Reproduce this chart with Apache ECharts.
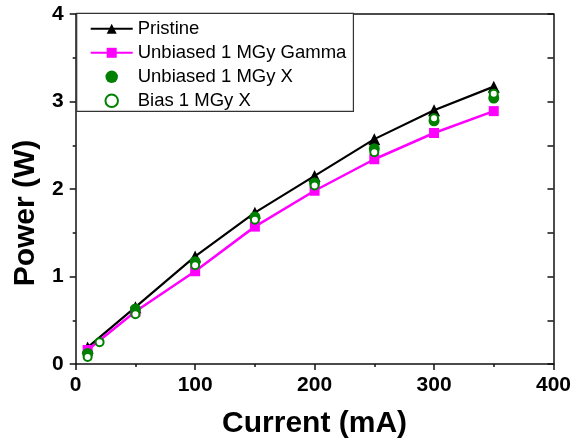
<!DOCTYPE html>
<html>
<head>
<meta charset="utf-8">
<script src="https://cdn.jsdelivr.net/npm/echarts@6/dist/echarts.min.js"></script>
<style>
html,body{margin:0;padding:0;background:#fff;}
#chart{width:574px;height:444px;}
</style>
</head>
<body>
<div id="chart"></div>
<script>
var current = [10, 50, 100, 150, 200, 250, 300, 350];
var pristine = [0.19, 0.65, 1.23, 1.73, 2.15, 2.57, 2.90, 3.17];
var gamma = [0.16, 0.60, 1.06, 1.57, 1.98, 2.34, 2.64, 2.89];
var unbiasedX = [0.12, 0.63, 1.17, 1.68, 2.07, 2.46, 2.78, 3.04];
var biasCurrent = [10, 20, 50, 100, 150, 200, 250, 300, 350];
var biasX = [0.08, 0.25, 0.57, 1.13, 1.65, 2.04, 2.42, 2.81, 3.09];
var xTicks = [0, 100, 200, 300, 400];
var yTicks = [0, 1, 2, 3, 4];
var names = ['Pristine', 'Unbiased 1 MGy Gamma', 'Unbiased 1 MGy X', 'Bias 1 MGy X'];

function pairs(xs, ys) { return xs.map(function (x, i) { return [x, ys[i]]; }); }

var FONT = 'Liberation Sans, Arial, sans-serif';
var axisLineStyle = { color: '#111', width: 1.5 };

var chart = echarts.init(document.getElementById('chart'), null, { renderer: 'canvas' });
chart.setOption({
  animation: false,
  backgroundColor: '#fff',
  grid: { left: 75.7, right: 19, top: 14, bottom: 78 },
  legend: {
    orient: 'vertical',
    left: 76.7,
    top: 13.3,
    data: names,
    padding: [6, 7, 1, 13],
    itemWidth: 42,
    itemHeight: 12.5,
    itemGap: 5,
    borderColor: '#333',
    borderWidth: 1.2,
    backgroundColor: '#fff',
    textStyle: { fontFamily: FONT, fontSize: 18.5, color: '#000', lineHeight: 18 }
  },
  xAxis: [{
    type: 'value',
    min: xTicks[0], max: xTicks[xTicks.length - 1], interval: 100,
    name: 'Current (mA)', nameLocation: 'middle', nameGap: 45,
    nameTextStyle: { fontFamily: FONT, fontSize: 30, fontWeight: 'bold', color: '#000' },
    axisLine: { show: true, onZero: false, lineStyle: axisLineStyle },
    axisTick: { show: true, inside: false, length: 6, lineStyle: axisLineStyle },
    minorTick: { show: true, splitNumber: 2, length: 3, lineStyle: axisLineStyle },
    splitLine: { show: false },
    axisLabel: { margin: 11, fontFamily: FONT, fontSize: 21, fontWeight: 'bold', color: '#000' }
  }, {
    type: 'value', position: 'top',
    min: xTicks[0], max: xTicks[xTicks.length - 1], interval: 100,
    axisLine: { show: true, onZero: false, lineStyle: axisLineStyle },
    axisTick: { show: false }, axisLabel: { show: false }, splitLine: { show: false }
  }],
  yAxis: [{
    type: 'value',
    min: yTicks[0], max: yTicks[yTicks.length - 1], interval: 1,
    name: 'Power (W)', nameLocation: 'middle', nameGap: 30, nameRotate: 90,
    nameTextStyle: { fontFamily: FONT, fontSize: 30, fontWeight: 'bold', color: '#000', padding: [0, 48, 0, 0] },
    axisLine: { show: true, onZero: false, lineStyle: axisLineStyle },
    axisTick: { show: true, inside: false, length: 6, lineStyle: axisLineStyle },
    minorTick: { show: true, splitNumber: 2, length: 3, lineStyle: axisLineStyle },
    splitLine: { show: false },
    axisLabel: { margin: 12, fontFamily: FONT, fontSize: 21, fontWeight: 'bold', color: '#000' }
  }, {
    type: 'value', position: 'right',
    min: yTicks[0], max: yTicks[yTicks.length - 1], interval: 1,
    axisLine: { show: true, onZero: false, lineStyle: axisLineStyle },
    axisTick: { show: true, inside: true, length: 6, lineStyle: axisLineStyle },
    minorTick: { show: true, splitNumber: 2, length: 6, lineStyle: axisLineStyle },
    axisLabel: { show: false }, splitLine: { show: false }
  }],
  series: [{
    name: names[0], type: 'line', data: pairs(current, pristine),
    symbol: 'triangle', symbolSize: 12,
    lineStyle: { color: '#000', width: 2.2 },
    itemStyle: { color: '#000' }, z: 2
  }, {
    name: names[1], type: 'line', data: pairs(current, gamma),
    symbol: 'rect', symbolSize: 10,
    lineStyle: { color: '#ff00ff', width: 2.5 },
    itemStyle: { color: '#ff00ff' }, z: 3
  }, {
    name: names[2], type: 'scatter', data: pairs(current, unbiasedX),
    symbol: 'circle', symbolSize: 11,
    itemStyle: { color: '#008000', opacity: 1 }, z: 4
  }, {
    name: names[3], type: 'scatter', data: pairs(biasCurrent, biasX),
    symbol: 'circle', symbolSize: 8,
    itemStyle: { color: '#fff', borderColor: '#008000', borderWidth: 2, opacity: 1 }, z: 5
  }]
});
</script>
</body>
</html>
